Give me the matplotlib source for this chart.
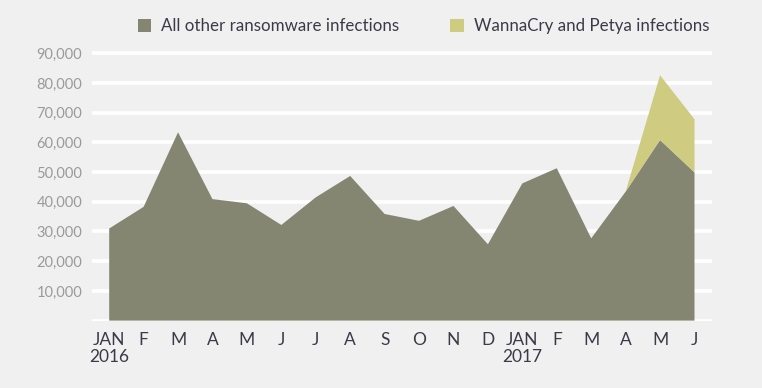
import numpy as np
import matplotlib
matplotlib.use('Agg')
import matplotlib.pyplot as plt

# Monthly ransomware infections, Jan 2016 - Jun 2017
months = ['JAN\n2016', 'F', 'M', 'A', 'M', 'J', 'J', 'A', 'S', 'O', 'N', 'D',
          'JAN\n2017', 'F', 'M', 'A', 'M', 'J']
other = [31000, 38300, 63400, 40900, 39500, 32200, 41500, 48700, 35900,
         33600, 38600, 25700, 46200, 51300, 27700, 43400, 60800, 49900]
wannacry = [0, 0, 0, 0, 0, 0, 0, 0, 0, 0, 0, 0, 0, 0, 0, 0, 21800, 17900]
yticks = [10000, 20000, 30000, 40000, 50000, 60000, 70000, 80000, 90000]

bg = '#f0f0f0'
gray = '#848672'
yellow = '#cfcb80'

plt.rcParams['font.family'] = ['Lato', 'DejaVu Sans']

fig = plt.figure(figsize=(7.62, 3.88), dpi=100, facecolor=bg)
ax = fig.add_axes([0.1207, 0.1737, 0.934 - 0.1207, 0.878 - 0.1737])
ax.set_facecolor(bg)

x = np.arange(len(months))
ax.stackplot(x, other, wannacry, colors=[gray, yellow],
             labels=['All other ransomware infections', 'WannaCry and Petya infections'],
             zorder=3, linewidth=0)

for v in [0] + yticks:
    ax.axhline(v, color='white', linewidth=2.6, zorder=2)

ax.set_xlim(-0.5, 17.5)
ax.set_ylim(0, 92000)
ax.set_yticks(yticks)
ax.set_yticklabels([f'{v:,}' for v in yticks])
ax.set_xticks(x)
ax.set_xticklabels(months, linespacing=1.1)
ax.tick_params(axis='y', length=0, pad=7, labelsize=10.5, labelcolor='#9a9a9a')
ax.tick_params(axis='x', length=0, pad=8, labelsize=12.5, labelcolor='#3b3b48')
for s in ax.spines.values():
    s.set_visible(False)

leg = fig.legend(loc='upper center', bbox_to_anchor=(0.5558, 0.993), ncol=2, frameon=False,
                 fontsize=12.2, labelcolor='#3b3b48', handlelength=0.8, handleheight=0.8,
                 columnspacing=3.0, handletextpad=0.6)

fig.savefig('out.png', dpi=100, facecolor=bg)
